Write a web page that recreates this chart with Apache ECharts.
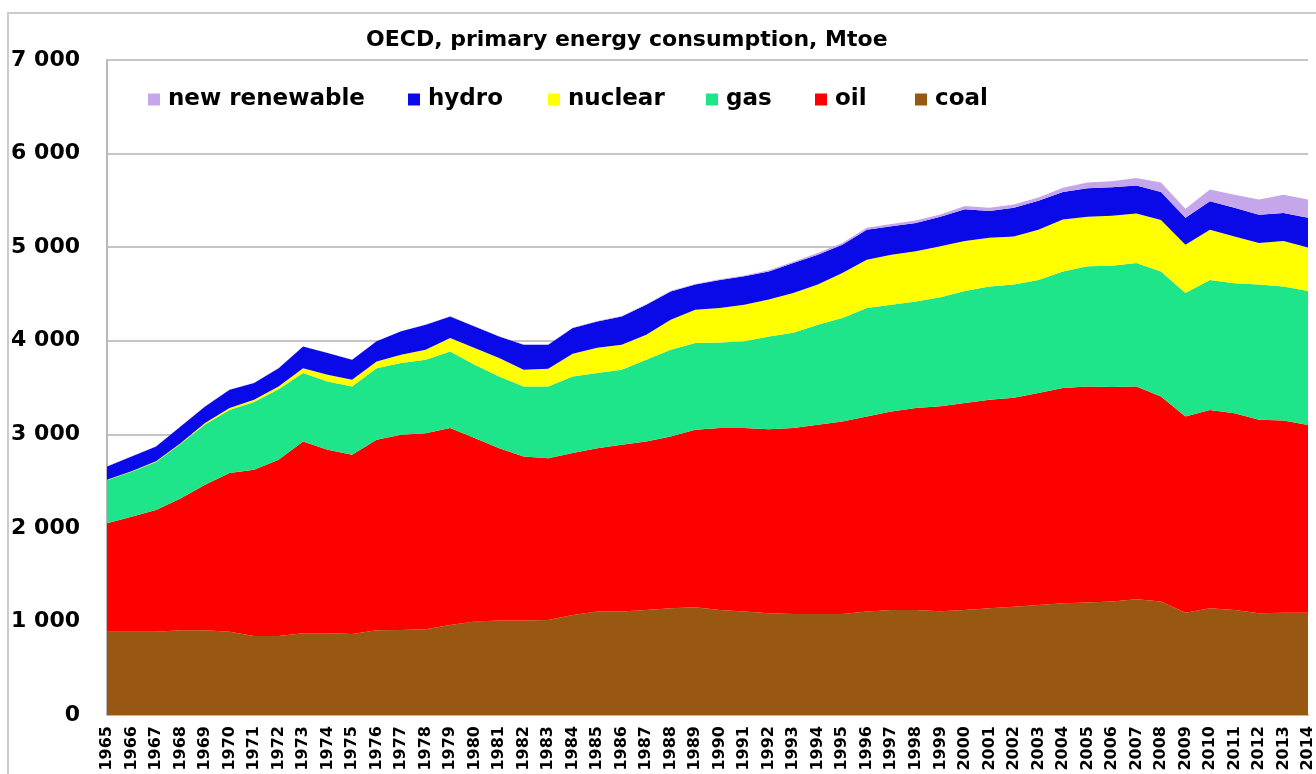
<!DOCTYPE html>
<html>
<head>
<meta charset="utf-8">
<script src="https://cdn.jsdelivr.net/npm/echarts@6/dist/echarts.min.js"></script>
<style>
html,body{margin:0;padding:0;background:#fff;}
#chart{width:1316px;height:774px;}
</style>
</head>
<body>
<div id="chart"></div>
<script>
const years = ['1965','1966','1967','1968','1969','1970','1971','1972','1973','1974','1975','1976','1977','1978','1979','1980','1981','1982','1983','1984','1985','1986','1987','1988','1989','1990','1991','1992','1993','1994','1995','1996','1997','1998','1999','2000','2001','2002','2003','2004','2005','2006','2007','2008','2009','2010','2011','2012','2013','2014'];

const coal = [890,890,890,905,905,890,845,845,873,873,866,905,909,916,962,998,1009,1009,1016,1070,1105,1105,1123,1141,1152,1123,1105,1088,1080,1080,1080,1105,1123,1123,1110,1123,1140,1158,1176,1194,1201,1212,1237,1212,1094,1140,1123,1088,1094,1094];
const oil = [1160,1230,1300,1410,1555,1695,1775,1882,2050,1961,1914,2036,2085,2096,2104,1961,1843,1754,1729,1729,1747,1783,1800,1836,1896,1943,1961,1967,1986,2022,2057,2085,2121,2157,2190,2212,2230,2232,2264,2301,2309,2293,2273,2193,2096,2120,2102,2067,2054,2006];
const gas = [460,480,515,580,645,675,725,753,731,731,731,766,767,785,820,784,766,748,766,819,803,802,874,926,927,916,927,991,1019,1068,1105,1160,1141,1140,1165,1195,1210,1210,1210,1245,1285,1295,1320,1335,1320,1390,1390,1445,1432,1430];
const nuclear = [5,6,7,10,15,20,25,31,53,71,72,72,89,107,143,179,197,179,189,242,270,267,267,322,355,368,392,394,425,430,483,516,535,535,545,535,520,515,535,555,530,535,530,550,515,535,500,445,485,465];
const hydro = [141,157,158,179,178,196,177,196,232,232,214,214,250,267,231,231,231,267,257,275,281,303,321,302,270,300,303,300,320,320,300,320,302,303,315,340,285,305,310,295,305,305,300,300,290,305,305,300,300,320];
const renewable = [2,2,2,2,2,2,2,2,2,2,2,2,2,2,2,2,2,3,3,3,4,4,5,6,7,8,10,12,15,18,20,22,24,27,25,35,35,35,35,45,60,65,80,100,95,125,140,165,195,195];

const seriesNames = ['coal','oil','gas','nuclear','hydro','new renewable'];
const seriesColors = ['#985812','#fe0000','#1fe58a','#ffff00','#0a0ae8','#c6a6ea'];
const seriesData = [coal, oil, gas, nuclear, hydro, renewable];
const yTicks = [0,1000,2000,3000,4000,5000,6000,7000];
const legendOrder = ['new renewable','hydro','nuclear','gas','oil','coal'];
const legendLeft = [148,408,548,706,815,915];

const FONT = '"DejaVu Sans", sans-serif';

const chart = echarts.init(document.getElementById('chart'), null, {renderer:'canvas'});

const option = {
  backgroundColor: '#ffffff',
  animation: false,
  title: {
    text: 'OECD, primary energy consumption, Mtoe',
    left: 361,
    top: 24,
    textStyle: {fontFamily: FONT, fontWeight: 'bold', fontSize: 22, color: '#000'}
  },
  legend: legendOrder.map((name, i) => ({
    data: [name],
    left: legendLeft[i],
    top: 88,
    icon: 'rect',
    itemWidth: 12,
    itemHeight: 12,
    itemGap: 0,
    padding: 0,
    selectedMode: false,
    textStyle: {fontFamily: FONT, fontWeight: 'bold', fontSize: 23, color: '#000', padding: [0,0,0,3]}
  })),
  graphic: [{
    type: 'rect',
    shape: {x: 8, y: 13, width: 1400, height: 800},
    style: {fill: null, stroke: '#c9ccd4', lineWidth: 2},
    silent: true,
    z: -1
  }],
  grid: {left: 107, right: 4, top: 60, bottom: 59, containLabel: false},
  xAxis: {
    type: 'category',
    data: years,
    boundaryGap: false,
    axisLine: {show: true, lineStyle: {color: '#b8b8bc', width: 2}},
    axisTick: {show: false},
    axisLabel: {
      interval: 0, rotate: 90, margin: 11,
      fontFamily: FONT, fontWeight: 'bold', fontSize: 16, color: '#000'
    },
    splitLine: {show: false}
  },
  yAxis: {
    type: 'value',
    min: 0, max: 7000, interval: 1000,
    axisLine: {show: true, lineStyle: {color: '#b8b8bc', width: 2}},
    axisTick: {show: false},
    axisLabel: {
      margin: 27,
      fontFamily: FONT, fontWeight: 'bold', fontSize: 22, color: '#000',
      formatter: function (v) {
        if (yTicks.indexOf(v) < 0) return '';
        return String(v).replace(/\B(?=(\d{3})+(?!\d))/g, ' ');
      }
    },
    splitLine: {show: true, lineStyle: {color: '#c4c4ca', width: 2}}
  },
  series: seriesNames.map((name, i) => ({
    name: name,
    type: 'line',
    stack: 'total',
    data: seriesData[i],
    symbol: 'none',
    showSymbol: false,
    lineStyle: {width: 0},
    itemStyle: {color: seriesColors[i]},
    areaStyle: {color: seriesColors[i], opacity: 1},
    emphasis: {disabled: true}
  }))
};

chart.setOption(option);
</script>
</body>
</html>
